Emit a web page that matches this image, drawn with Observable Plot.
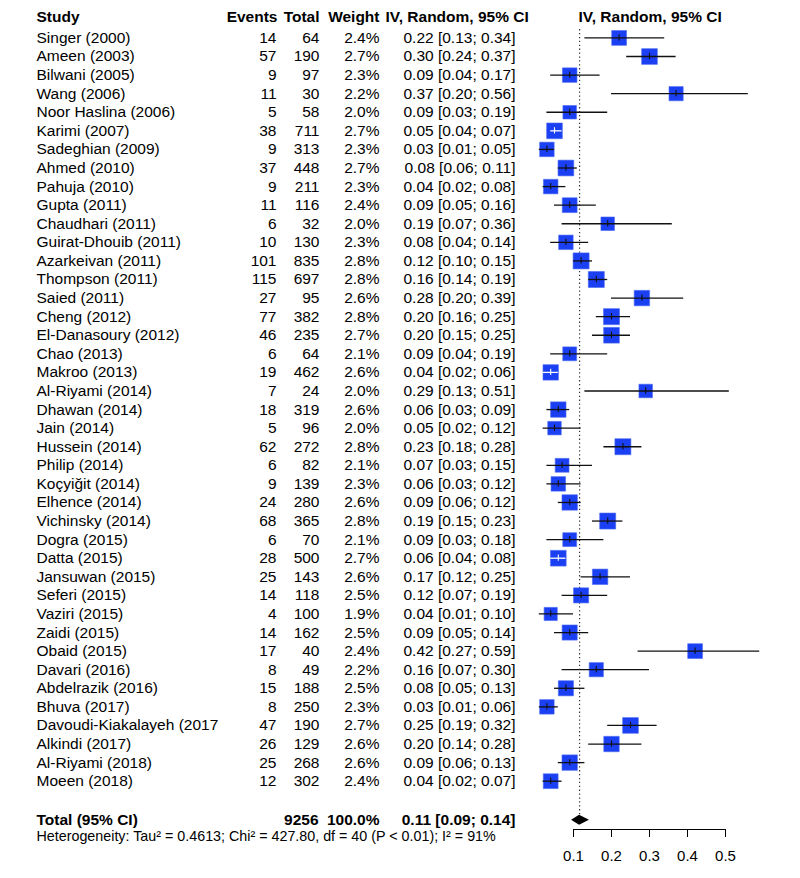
<!DOCTYPE html>
<html>
<head>
<meta charset="utf-8">
<script src="https://cdn.jsdelivr.net/npm/d3@7"></script>
<script src="https://cdn.jsdelivr.net/npm/@observablehq/plot@0.6"></script>
<style>
  html, body { margin: 0; padding: 0; background: #fff; }
  #chart svg { display: block; }
</style>
</head>
<body>
<div id="chart"></div>
<script>
// ---- data ----
const studies = ["Singer (2000)", "Ameen (2003)", "Bilwani (2005)", "Wang (2006)", "Noor Haslina (2006)",
  "Karimi (2007)", "Sadeghian (2009)", "Ahmed (2010)", "Pahuja (2010)", "Gupta (2011)",
  "Chaudhari (2011)", "Guirat-Dhouib (2011)", "Azarkeivan (2011)", "Thompson (2011)", "Saied (2011)",
  "Cheng (2012)", "El-Danasoury (2012)", "Chao (2013)", "Makroo (2013)", "Al-Riyami (2014)",
  "Dhawan (2014)", "Jain (2014)", "Hussein (2014)", "Philip (2014)", "Koçyiğit (2014)",
  "Elhence (2014)", "Vichinsky (2014)", "Dogra (2015)", "Datta (2015)", "Jansuwan (2015)",
  "Seferi (2015)", "Vaziri (2015)", "Zaidi (2015)", "Obaid (2015)", "Davari (2016)",
  "Abdelrazik (2016)", "Bhuva (2017)", "Davoudi-Kiakalayeh (2017", "Alkindi (2017)", "Al-Riyami (2018)",
  "Moeen (2018)"];
const events = [14, 57, 9, 11, 5, 38, 9, 37, 9, 11, 6, 10, 101, 115, 27, 77, 46, 6, 19, 7, 18, 5, 62, 6, 9,
  24, 68, 6, 28, 25, 14, 4, 14, 17, 8, 15, 8, 47, 26, 25, 12];
const totals = [64, 190, 97, 30, 58, 711, 313, 448, 211, 116, 32, 130, 835, 697, 95, 382, 235, 64, 462, 24,
  319, 96, 272, 82, 139, 280, 365, 70, 500, 143, 118, 100, 162, 40, 49, 188, 250, 190, 129, 268, 302];
const weights = [2.4, 2.7, 2.3, 2.2, 2.0, 2.7, 2.3, 2.7, 2.3, 2.4, 2.0, 2.3, 2.8, 2.8, 2.6, 2.8, 2.7, 2.1, 2.6, 2.0,
  2.6, 2.0, 2.8, 2.1, 2.3, 2.6, 2.8, 2.1, 2.7, 2.6, 2.5, 1.9, 2.5, 2.4, 2.2, 2.5, 2.3, 2.7, 2.6, 2.6, 2.4];
const estimates = [0.22, 0.30, 0.09, 0.37, 0.09, 0.05, 0.03, 0.08, 0.04, 0.09, 0.19, 0.08, 0.12, 0.16, 0.28,
  0.20, 0.20, 0.09, 0.04, 0.29, 0.06, 0.05, 0.23, 0.07, 0.06, 0.09, 0.19, 0.09, 0.06, 0.17, 0.12, 0.04, 0.09,
  0.42, 0.16, 0.08, 0.03, 0.25, 0.20, 0.09, 0.04];
const lowers = [0.13, 0.24, 0.04, 0.20, 0.03, 0.04, 0.01, 0.06, 0.02, 0.05, 0.07, 0.04, 0.10, 0.14, 0.20,
  0.16, 0.15, 0.04, 0.02, 0.13, 0.03, 0.02, 0.18, 0.03, 0.03, 0.06, 0.15, 0.03, 0.04, 0.12, 0.07, 0.01, 0.05,
  0.27, 0.07, 0.05, 0.01, 0.19, 0.14, 0.06, 0.02];
const uppers = [0.34, 0.37, 0.17, 0.56, 0.19, 0.07, 0.05, 0.11, 0.08, 0.16, 0.36, 0.14, 0.15, 0.19, 0.39,
  0.25, 0.25, 0.19, 0.06, 0.51, 0.09, 0.12, 0.28, 0.15, 0.12, 0.12, 0.23, 0.18, 0.08, 0.25, 0.19, 0.10, 0.14,
  0.59, 0.30, 0.13, 0.06, 0.32, 0.28, 0.13, 0.07];
// studies whose CI fits inside the square (drawn white in the reference)
const insideCI = ["Karimi (2007)", "Makroo (2013)", "Datta (2015)"];

const headers = ["Study", "Events", "Total", "Weight", "IV, Random, 95% CI"];
const pooledLabel = "Total (95% CI)";
const pooledWeightLabel = "100.0%";
const pooledText = "0.11 [0.09; 0.14]";
const pooledEst = 0.116, pooledLo = 0.095, pooledHi = 0.142;
const heterogeneity = "Heterogeneity: Tau² = 0.4613; Chi² = 427.80, df = 40 (P < 0.01); I² = 91%";
const xTicks = [0.1, 0.2, 0.3, 0.4, 0.5];

// ---- build table ----
const f2 = d3.format(".2f");
const rows = studies.map((s, i) => ({
  i, study: s, events: events[i], total: totals[i], weight: weights[i],
  est: estimates[i], lo: lowers[i], hi: uppers[i],
  wtxt: weights[i].toFixed(1) + "%",
  citxt: `${f2(estimates[i])} [${f2(lowers[i])}; ${f2(uppers[i])}]`,
  inside: insideCI.includes(s)
}));
const grandTotal = d3.sum(totals);

const HEADER_ROW = -1.1, TOTAL_ROW = 42.1, HET_ROW = 42.97, AXIS_ROW = 42.6;
const diamondH = 0.27;
const diamond = [
  {y: TOTAL_ROW - diamondH, x1: pooledEst, x2: pooledEst},
  {y: TOTAL_ROW, x1: pooledLo, x2: pooledHi},
  {y: TOTAL_ROW + diamondH, x1: pooledEst, x2: pooledEst}
];

const FS = 15.5;
const hdr = (label, dx, anchor) => Plot.text([label], {
  y: () => HEADER_ROW, text: d => d, frameAnchor: "left", dx, textAnchor: anchor,
  fontWeight: "bold", fontSize: FS
});
const col = (field, dx, anchor) => Plot.text(rows, {
  y: "i", text: field, frameAnchor: "left", dx, textAnchor: anchor, fontSize: FS
});
const tot = (label, dx, anchor) => Plot.text([label], {
  y: () => TOTAL_ROW, text: d => d, frameAnchor: "left", dx, textAnchor: anchor,
  fontWeight: "bold", fontSize: FS
});

const chart = Plot.plot({
  width: 800,
  height: 878,
  marginTop: 17,
  marginBottom: 49,
  marginLeft: 0,
  marginRight: 0,
  style: {fontFamily: "'Liberation Sans', Arial, Helvetica, sans-serif", fontSize: "15px", background: "#fff", color: "#000"},
  x: {domain: [0.1, 0.5], range: [573, 725]},
  y: {domain: [HEADER_ROW, AXIS_ROW], range: [17, 829], axis: null},
  r: {domain: [0, 2.8], range: [0, 9.03]},
  marks: [
    // headers
    hdr(headers[0], 36, "start"),
    hdr(headers[1], 277, "end"),
    hdr(headers[2], 319, "end"),
    hdr(headers[3], 379, "end"),
    hdr(headers[4], 385, "start"),
    hdr(headers[4], 578, "start"),
    // study table
    col("study", 36, "start"),
    col("events", 276, "end"),
    col("total", 319, "end"),
    col("wtxt", 379, "end"),
    col("citxt", 515, "end"),
    // total row
    tot(pooledLabel, 36, "start"),
    tot(String(grandTotal), 318, "end"),
    tot(pooledWeightLabel, 379, "end"),
    tot(pooledText, 515, "end"),
    Plot.text([heterogeneity], {y: () => HET_ROW, text: d => d, frameAnchor: "left", dx: 36,
      textAnchor: "start", fontSize: 14.3}),
    // pooled estimate reference line
    Plot.ruleX([pooledEst], {y1: -0.45, y2: TOTAL_ROW - diamondH, stroke: "#333", strokeWidth: 1.2,
      strokeDasharray: "1.3,2.6"}),
    // squares
    Plot.dot(rows, {x: "est", y: "i", r: "weight", symbol: "square", fill: "#1b3ff2",
      stroke: "#4a6af5", strokeWidth: 0.6}),
    // CIs
    Plot.ruleY(rows.filter(d => !d.inside), {y: "i", x1: "lo", x2: "hi", stroke: "#111", strokeWidth: 1.3}),
    Plot.ruleY(rows.filter(d => d.inside), {y: "i", x1: "lo", x2: "hi", stroke: "#fff", strokeWidth: 1.3}),
    Plot.ruleX(rows.filter(d => !d.inside), {x: "est", y1: d => d.i - 0.17, y2: d => d.i + 0.17, stroke: "#111", strokeWidth: 1.1}),
    Plot.ruleX(rows.filter(d => d.inside), {x: "est", y1: d => d.i - 0.17, y2: d => d.i + 0.17, stroke: "#fff", strokeWidth: 1.1}),
    // pooled diamond
    Plot.areaX(diamond, {y: "y", x1: "x1", x2: "x2", fill: "#000"}),
    // x axis
    Plot.ruleY([AXIS_ROW], {x1: xTicks[0], x2: xTicks[xTicks.length - 1], stroke: "#000", strokeWidth: 1}),
    Plot.axisX({ticks: xTicks, tickFormat: d3.format(".1f"), tickSize: 8, tickPadding: 13,
      fontSize: 15, label: null, anchor: "bottom"})
  ]
});
document.getElementById("chart").appendChild(chart);
</script>
</body>
</html>
